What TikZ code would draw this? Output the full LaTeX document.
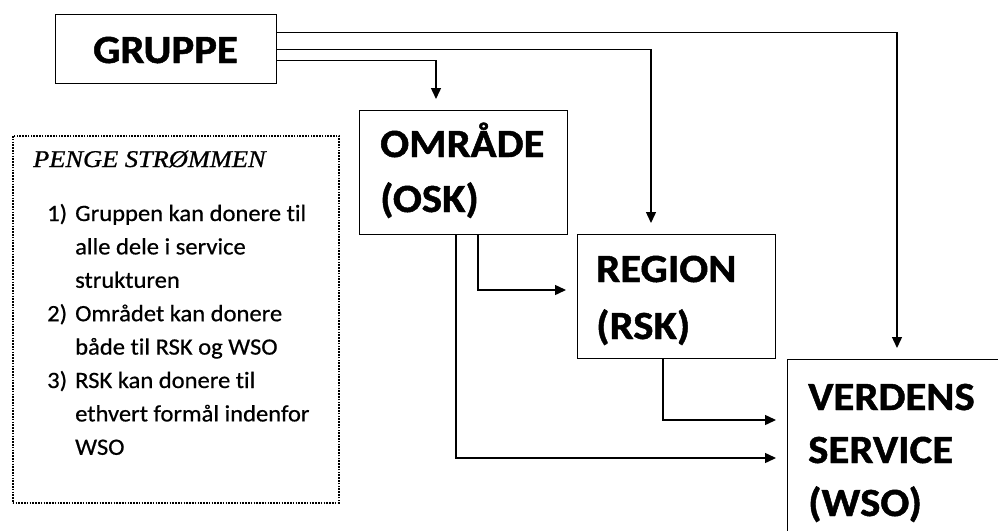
\documentclass[tikz,border=0pt]{standalone}
\usepackage{fontspec}
\setmainfont{Carlito}
\newfontfamily\calfont{Carlito}[FakeStretch=1.07, Ligatures=NoCommon, BoldFeatures={FakeBold=1.2}]
\newfontfamily\itemfont{Carlito}[FakeStretch=1.05, Ligatures=NoCommon, FakeBold=0.6]
\newfontfamily\titlefont{Liberation Serif}[FakeStretch=1.1, FakeBold=0.8]
\usetikzlibrary{arrows.meta}
\begin{document}
\begin{tikzpicture}[x=1pt,y=-1pt,
  box/.style={draw, line width=1.4pt, inner sep=0pt, anchor=north west},
  legendbox/.style={draw, line width=1.6pt, dash pattern=on 1.6pt off 1.2pt, inner sep=0pt, anchor=north west},
  conn/.style={line width=1.4pt, -{Triangle[length=11pt,width=10pt]}, shorten >=11pt},
  big/.style={font=\calfont\bfseries\fontsize{40}{48}\selectfont, inner sep=0pt, anchor=base west},
  item/.style={font=\itemfont\fontsize{23.4}{28}\selectfont, inner sep=0pt, anchor=base west},
]
\useasboundingbox (0,0) rectangle (998,530);
\clip (0,0) rectangle (998,530);

% boxes
\node[box, minimum width=221pt, minimum height=69pt] (grp) at (55,14) {};
\node[box, minimum width=208pt, minimum height=124pt] (omr) at (359,110) {};
\node[box, minimum width=198pt, minimum height=124pt] (reg) at (577,234) {};
\node[box, minimum width=230pt, minimum height=200pt] (ver) at (787,359) {};
\node[legendbox, minimum width=326pt, minimum height=367pt] (leg) at (12,135) {};

% box texts
\node[big, anchor=base] (tgrp) at (165.5,63) {GRUPPE};
\node[big] (tomr1) at (380,157) {OMRÅDE};
\node[big] (tomr2) at (380,212) {(OSK)};
\node[big] (treg1) at (596,282) {REGION};
\node[big] (treg2) at (596,339) {(RSK)};
\node[big] (tver1) at (808,410) {VERDENS};
\node[big] (tver2) at (808,463) {SERVICE};
\node[big] (tver3) at (808,516) {(WSO)};

% legend
\node[anchor=base west, inner sep=0pt, font=\titlefont\itshape\fontsize{24}{28}\selectfont] (ltitle) at (33,167) {PENGE STRØMMEN};
\node[item] (n1) at (47,221) {1)};
\node[item] (l1) at (75,221) {Gruppen kan donere til};
\node[item] (l2) at (75,254.4) {alle dele i service};
\node[item] (l3) at (75,287.8) {strukturen};
\node[item] (n2) at (47,321.2) {2)};
\node[item] (l4) at (75,321.2) {Området kan donere};
\node[item] (l5) at (75,354.6) {både til RSK og WSO};
\node[item] (n3) at (47,388) {3)};
\node[item] (l6) at (75,388) {RSK kan donere til};
\node[item] (l7) at (75,421.4) {ethvert formål indenfor};
\node[item] (l8) at (75,454.8) {WSO};

% connectors
\draw[conn] ([yshift=16.5pt]grp.east) -| (897,0 |- ver.north);
\draw[conn] (grp.east) -| (651,0 |- reg.north);
\draw[conn] ([yshift=-11.5pt]grp.east) -| (436,0 |- omr.north);
\draw[conn] (478,0 |- omr.south) |- (reg.west |- 0,290);
\draw[conn] (456,0 |- omr.south) |- (ver.west |- 0,458);
\draw[conn] (663,0 |- reg.south) |- (ver.west |- 0,420);
\end{tikzpicture}
\end{document}
